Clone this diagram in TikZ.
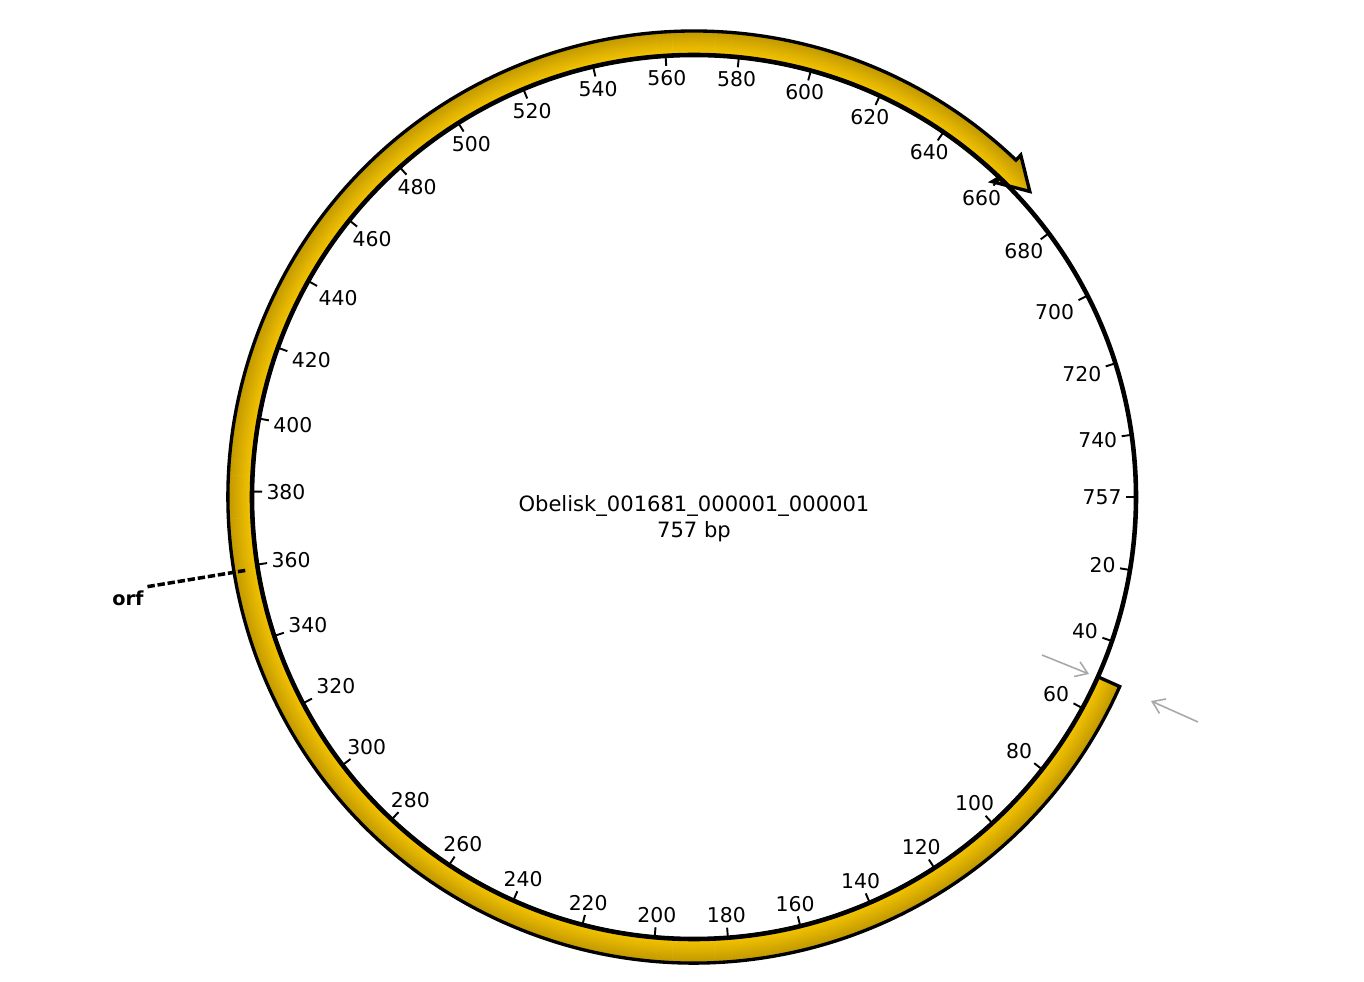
\documentclass[tikz,border=0pt]{standalone}
\usepackage{fontspec}
\setmainfont{DejaVu Sans}
\usetikzlibrary{arrows.meta}
\definecolor{goldlight}{RGB}{247,198,0}
\definecolor{golddark}{RGB}{192,152,0}
\definecolor{markgray}{RGB}{168,168,168}

\begin{document}
\begin{tikzpicture}[x=0.02cm, y=0.02cm,
    backbone/.style={line width=2.6pt},
    bandline/.style={line width=1.9pt, line join=miter},
    tickmark/.style={line width=1.1pt},
    ticklabel/.style={inner sep=2pt, font=\fontsize{11.6}{13}\selectfont},
    titletext/.style={align=center, inner sep=0pt, font=\fontsize{12}{14.8}\selectfont},
    orflabel/.style={inner sep=2pt, font=\fontsize{11}{13}\selectfont\bfseries},
    orfline/.style={line width=2pt, dash pattern=on 4.2pt off 1.6pt},
    markarrow/.style={markgray, line width=0.9pt, -{Straight Barb[length=6.5pt, width=9pt]}}]
  \useasboundingbox (-694,-485) rectangle (670,497);
  % feature arrow: band outside the backbone, head at 668 bp
  \def\bandpath{(-24:466) arc[start angle=-24, end angle=-313.7, radius=466]
    -- (-313.7:473) -- (-317.7:454) -- (-313.4:434) -- (-313.7:442)
    arc[start angle=-313.7, end angle=-24, radius=442] -- cycle}
  \begin{scope}
    \clip \bandpath;
    \foreach \r in {426,428,...,478}{
      \pgfmathsetmacro{\t}{max(0,min(100,(\r-442)*100/24))}
      \draw[golddark!\t!goldlight, line width=1.4pt] (0,0) circle (\r);
    }
  \end{scope}
  \draw[bandline] \bandpath;
  % backbone and scale
  \draw[backbone] (0,0) circle (442);
  \foreach \p in {20,40,...,740,757}{
    \pgfmathsetmacro{\a}{360-\p/757*360}
    \draw[tickmark] (\a:442) -- (\a:432) node[ticklabel, anchor=\a] (lbl\p) {\p};
  }
  \node[titletext] (title) at (0,-22) {Obelisk\_001681\_000001\_000001\\757 bp};
  % feature label
  \node[orflabel] (orf) at (-566,-101) {orf};
  \coordinate (orfend) at (-446,-73);
  \draw[orfline] (orf.north east) -- (orfend);
  % gray markers at the feature start
  \coordinate (marka1) at (348,-158);
  \coordinate (marka2) at (395,-177);
  \coordinate (markb1) at (504,-225);
  \coordinate (markb2) at (457,-204);
  \draw[markarrow] (marka1) -- (marka2);
  \draw[markarrow] (markb1) -- (markb2);
\end{tikzpicture}
\end{document}
